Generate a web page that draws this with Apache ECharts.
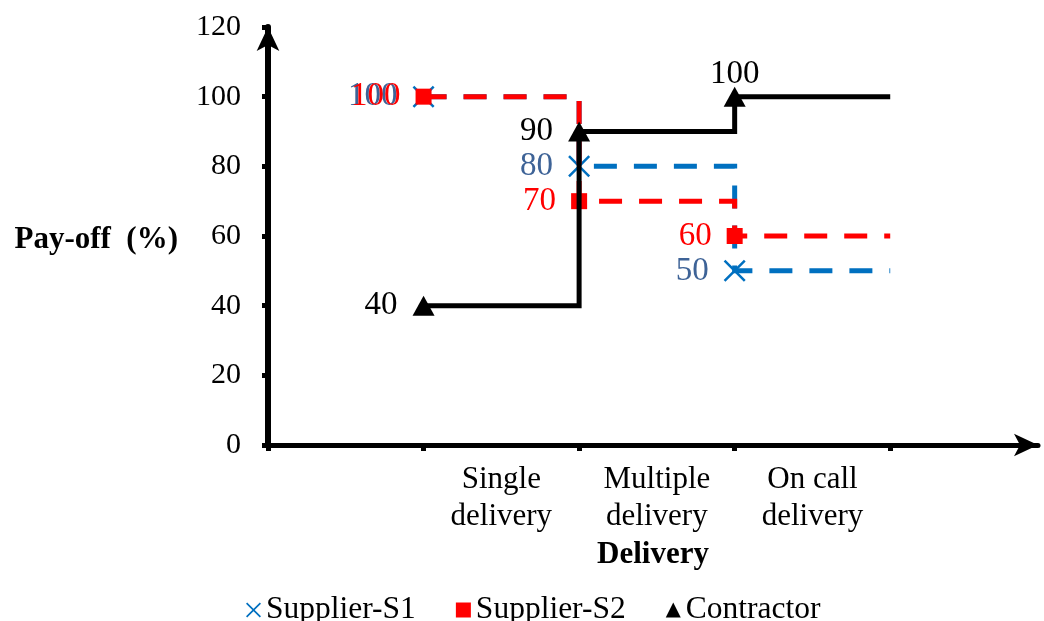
<!DOCTYPE html>
<html>
<head>
<meta charset="utf-8">
<script src="https://cdn.jsdelivr.net/npm/echarts@6/dist/echarts.min.js"></script>
<style>
  html, body { margin: 0; padding: 0; background: #fff; }
  #chart { width: 1044px; height: 621px; }
</style>
</head>
<body>
<div id="chart"></div>
<script>
// Delivery stages shown between the x-axis ticks
const stages = ['Single\ndelivery', 'Multiple\ndelivery', 'On call\ndelivery'];
// Stage start positions on the x scale; the last one closes the final step
const stagePos = [1, 2, 3, 4];
const stageLabelPos = [1.5, 2.5, 3.5];
// Pay-off (%) per stage
const supplierS1 = [100, 80, 50];
const supplierS2 = [100, 70, 60];
const contractor = [40, 90, 100];
const seriesNames = ['Supplier-S1', 'Supplier-S2', 'Contractor'];

const FONT = "'Liberation Serif', 'Times New Roman', serif";
const CROSS = 'path://M0,1.6L1.6,0L10,8.4L18.4,0L20,1.6L11.6,10L20,18.4L18.4,20L10,11.6L1.6,20L0,18.4L8.4,10Z';

// Build step points: one marked point per stage plus an unmarked tail point
function stepData(values) {
  const pts = values.map((v, i) => ({ value: [stagePos[i], v] }));
  pts.push({
    value: [stagePos[values.length], values[values.length - 1]],
    symbol: 'none',
    label: { show: false }
  });
  return pts;
}

function stepSeries(name, values, opts) {
  return {
    name: name,
    type: 'line',
    step: 'end',
    data: stepData(values),
    symbol: opts.symbol,
    symbolSize: opts.symbolSize,
    itemStyle: { color: opts.color },
    lineStyle: {
      color: opts.color,
      width: 5,
      type: opts.dash || 'solid',
      cap: 'butt',
      join: 'miter'
    },
    label: Object.assign({
      show: true,
      position: 'left',
      distance: 15,
      fontFamily: FONT,
      fontSize: 33,
      color: opts.labelColor,
      formatter: p => String(p.value[1])
    }, opts.label || {}),
    emphasis: { disabled: true },
    z: opts.z
  };
}

const chart = echarts.init(document.getElementById('chart'));
chart.setOption({
  animation: false,
  backgroundColor: '#fff',
  grid: { left: 268, right: 6, top: 27, bottom: 176 },
  xAxis: {
    type: 'value',
    min: 0,
    max: 4.95,
    name: 'Delivery',
    nameLocation: 'middle',
    nameGap: 91,
    nameTextStyle: { fontFamily: FONT, fontSize: 31, fontWeight: 'bold', color: '#000' },
    splitLine: { show: false },
    axisLine: {
      lineStyle: { color: '#000', width: 5 },
      symbol: ['none', 'arrow'],
      symbolSize: [17, 24],
      symbolOffset: [0, 0]
    },
    axisTick: {
      customValues: [0, 1, 2, 3, 4],
      length: 6,
      lineStyle: { color: '#000', width: 5 }
    },
    axisLabel: {
      customValues: stageLabelPos,
      formatter: v => stages[stageLabelPos.indexOf(v)] || '',
      fontFamily: FONT,
      fontSize: 31,
      lineHeight: 37,
      color: '#000',
      margin: 16
    }
  },
  yAxis: {
    type: 'value',
    min: 0,
    max: 120,
    interval: 20,
    name: 'Pay-off  (%)',
    nameLocation: 'middle',
    nameRotate: 0,
    nameGap: 90,
    nameTextStyle: {
      fontFamily: FONT, fontSize: 31, fontWeight: 'bold', color: '#000',
      verticalAlign: 'top',
      lineHeight: 8
    },
    splitLine: { show: false },
    axisLine: {
      show: true,
      lineStyle: { color: '#000', width: 6 },
      symbol: ['none', 'arrow'],
      symbolSize: [17, 24],
      symbolOffset: [0, 0]
    },
    axisTick: {
      show: true,
      length: 6,
      lineStyle: { color: '#000', width: 5 }
    },
    axisLabel: {
      fontFamily: FONT,
      fontSize: 30,
      color: '#000',
      margin: 27
    }
  },
  legend: {
    left: 241,
    top: 589,
    itemWidth: 15,
    itemHeight: 15,
    itemGap: 40,
    textStyle: { fontFamily: FONT, fontSize: 31.5, color: '#000' },
    data: [
      { name: seriesNames[0], icon: CROSS },
      { name: seriesNames[1], icon: 'rect' },
      { name: seriesNames[2], icon: 'triangle' }
    ]
  },
  series: [
    stepSeries(seriesNames[0], supplierS1, {
      color: '#0070c0', labelColor: '#3e6397', symbol: CROSS, symbolSize: 22,
      dash: [23, 17], z: 2
    }),
    stepSeries(seriesNames[1], supplierS2, {
      color: '#ff0000', labelColor: '#ff0000', symbol: 'rect', symbolSize: 16,
      dash: [23, 17], z: 3
    }),
    stepSeries(seriesNames[2], contractor, {
      color: '#000000', labelColor: '#000000', symbol: 'triangle', symbolSize: [22, 20],
      z: 4
    })
  ]
});
// The contractor's top value sits above its marker
const opt = chart.getOption();
opt.series[2].data[2].label = { position: 'top', distance: -4 };
chart.setOption({ series: opt.series });
</script>
</body>
</html>
